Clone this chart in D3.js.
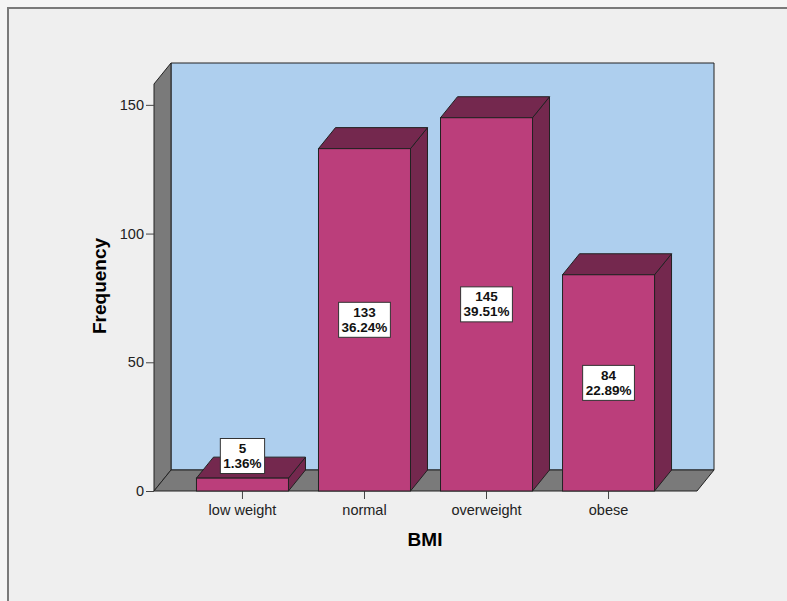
<!DOCTYPE html>
<html lang="en">
<head>
  <meta charset="utf-8">
  <title>BMI Frequency</title>
  <style>
    body { margin: 0; background: #f5f5f5; }
    svg { display: block; font-family: "Liberation Sans", Arial, sans-serif; }
    .axis path { display: none; }
    .axis line { stroke: #444; }
    .axis text { font-size: 14.5px; fill: #222; }
  </style>
</head>
<body>
<div id="chart"></div>
<script src="https://d3js.org/d3.v7.min.js"></script>
<script>
  const categories = ["low weight", "normal", "overweight", "obese"];
  const counts = [5, 133, 145, 84];
  const percents = ["1.36%", "36.24%", "39.51%", "22.89%"];
  const yTicks = [0, 50, 100, 150];

  const chartWidth = 787, chartHeight = 601;
  const plotLeft = 154, plotRight = 697, plotBottom = 491, plotTop = 84;
  const dx = 17, dy = -21;   // depth offset of the 3D box

  const svg = d3.select("#chart").append("svg")
    .attr("width", chartWidth).attr("height", chartHeight);

  // outer frame
  svg.append("rect")
    .attr("x", 8).attr("y", 8).attr("width", 820).attr("height", 640)
    .attr("fill", "#efefef").attr("stroke", "#7a7a7a").attr("stroke-width", 2);

  const x = d3.scaleBand()
    .domain(categories)
    .range([plotLeft, plotRight])
    .paddingInner(0.246)
    .paddingOuter(0.348);

  const y = d3.scaleLinear()
    .domain([0, 158.1])
    .range([plotBottom, plotTop]);

  const pts = p => p.map(d => d.join(",")).join(" ");

  // back wall
  svg.append("polygon")
    .attr("points", pts([[plotLeft + dx, plotTop + dy], [plotRight + dx, plotTop + dy], [plotRight + dx, plotBottom + dy], [plotLeft + dx, plotBottom + dy]]))
    .attr("fill", "#aecfee").attr("stroke", "#222").attr("stroke-width", 1);

  // left wall
  svg.append("polygon")
    .attr("points", pts([[plotLeft, plotTop], [plotLeft + dx, plotTop + dy], [plotLeft + dx, plotBottom + dy], [plotLeft, plotBottom]]))
    .attr("fill", "#7a7a7a").attr("stroke", "#222").attr("stroke-width", 1);

  // floor
  svg.append("polygon")
    .attr("points", pts([[plotLeft, plotBottom], [plotLeft + dx, plotBottom + dy], [plotRight + dx, plotBottom + dy], [plotRight, plotBottom]]))
    .attr("fill", "#7a7a7a").attr("stroke", "#222").attr("stroke-width", 1);

  // axes
  svg.append("g")
    .attr("class", "axis")
    .attr("transform", `translate(${plotLeft},0)`)
    .call(d3.axisLeft(y).tickValues(yTicks).tickSize(8).tickPadding(2));

  svg.append("g")
    .attr("class", "axis")
    .attr("transform", `translate(0,${plotBottom})`)
    .call(d3.axisBottom(x).tickSize(8).tickPadding(6));

  // bars
  const bars = svg.selectAll("g.bar")
    .data(categories.map((c, i) => ({ c, v: counts[i], p: percents[i] })))
    .join("g").attr("class", "bar");

  bars.each(function (d) {
    const g = d3.select(this);
    const x0 = x(d.c), x1 = x(d.c) + x.bandwidth();
    const yv = y(d.v), y0 = y(0);
    g.append("polygon")
      .attr("points", pts([[x1, yv], [x1 + dx, yv + dy], [x1 + dx, y0 + dy], [x1, y0]]))
      .attr("fill", "#74284e").attr("stroke", "#222");
    g.append("polygon")
      .attr("points", pts([[x0, yv], [x0 + dx, yv + dy], [x1 + dx, yv + dy], [x1, yv]]))
      .attr("fill", "#74284e").attr("stroke", "#222");
    g.append("rect")
      .attr("x", x0).attr("y", yv)
      .attr("width", x.bandwidth()).attr("height", y0 - yv)
      .attr("fill", "#bb3e7b").attr("stroke", "#222");
  });

  // value labels
  bars.each(function (d) {
    const g = d3.select(this);
    const cx = x(d.c) + x.bandwidth() / 2;
    const cy = Math.min((y(d.v) + y(0)) / 2, y(0) - 35);
    const box = g.append("rect").attr("fill", "#fff").attr("stroke", "#333");
    const t = g.append("text")
      .attr("text-anchor", "middle")
      .style("font-size", "13.5px").style("font-weight", "bold").attr("fill", "#111");
    t.append("tspan").attr("x", cx).attr("y", cy - 3).text(d.v);
    t.append("tspan").attr("x", cx).attr("y", cy + 12).text(d.p);
    const w = t.node().getBBox().width + 6;
    box.attr("x", cx - w / 2).attr("y", cy - 17.5).attr("width", w).attr("height", 35);
  });

  // axis titles
  svg.append("text")
    .attr("x", 425).attr("y", 546)
    .attr("text-anchor", "middle")
    .style("font-size", "19px").style("font-weight", "bold")
    .text("BMI");

  svg.append("text")
    .attr("transform", "translate(106,286) rotate(-90)")
    .attr("text-anchor", "middle")
    .style("font-size", "19px").style("font-weight", "bold")
    .text("Frequency");
</script>
</body>
</html>
